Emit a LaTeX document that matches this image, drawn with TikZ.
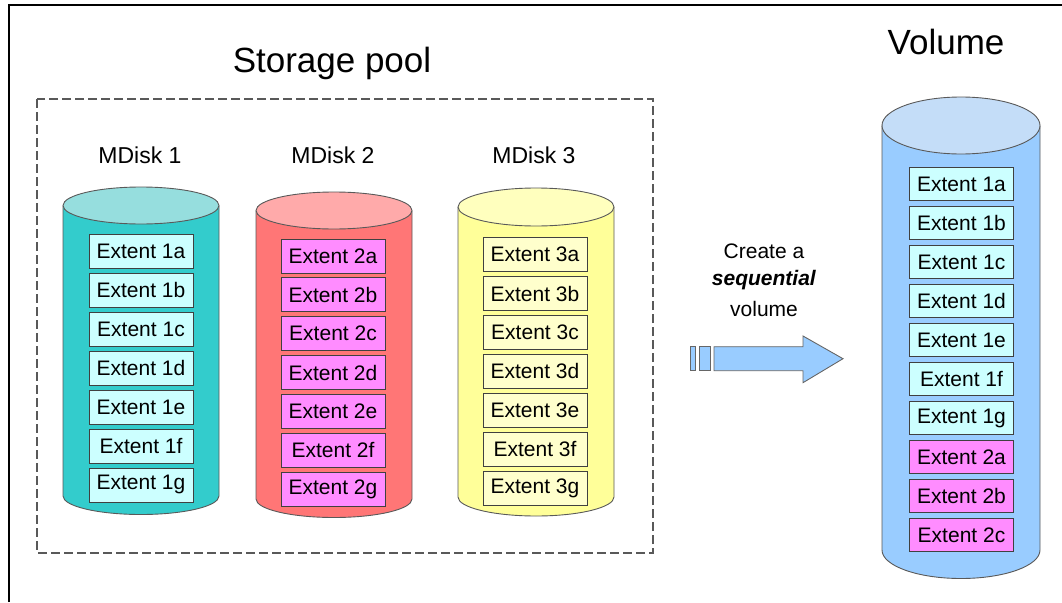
\documentclass[tikz,border=0pt]{standalone}
\usepackage{fontspec}
\setmainfont{Liberation Sans}
\definecolor{tealside}{RGB}{51,204,204}
\definecolor{tealtop}{RGB}{150,222,222}
\definecolor{redside}{RGB}{255,118,118}
\definecolor{redtop}{RGB}{255,170,170}
\definecolor{yelside}{RGB}{255,255,153}
\definecolor{yeltop}{RGB}{255,255,190}
\definecolor{blueside}{RGB}{153,204,255}
\definecolor{bluetop}{RGB}{196,221,248}
\definecolor{cyanbox}{RGB}{204,255,255}
\definecolor{magbox}{RGB}{255,140,255}
\definecolor{yelbox}{RGB}{255,255,204}
\definecolor{arrowfill}{RGB}{153,204,255}
\newcommand\drawcyl[7]{%
  \fill[#6] (#1-#4,#2) -- (#1-#4,#3) arc[start angle=180,end angle=0,x radius=#4,y radius=#5] -- (#1+#4,#2) -- cycle;
  \draw[cylline] (#1-#4,#2) -- (#1-#4,#3) arc[start angle=180,end angle=0,x radius=#4,y radius=#5] -- (#1+#4,#2);
  \draw[cylline,fill=#7] (#1,#2) ellipse[x radius=#4,y radius=#5];}
\begin{document}
\begin{tikzpicture}[x=1pt,y=-1pt,
  cylline/.style={draw=black!65,line width=0.9pt},
  ext/.style={draw=black!75,line width=0.8pt,minimum width=104pt,minimum height=34pt,inner sep=0pt,font=\fontsize{21}{23}\selectfont},
  title/.style={font=\fontsize{35}{38}\selectfont},
  disklbl/.style={font=\fontsize{23}{25}\selectfont},
  note/.style={font=\fontsize{21}{23}\selectfont}]
\useasboundingbox (0,0) rectangle (1062,602);
% frame
\draw[line width=1.5pt] (9,602) -- (9,5) -- (1062,5);
% titles
\node[title] (pooltitle) at (332,63) {Storage pool};
\node[title] (voltitle) at (946,42) {Volume};
% dashed pool box
\draw[draw=black!65,line width=1.2pt,dash pattern=on 9pt off 4pt] (37,99) rectangle (653,553);
% disk labels
\node[disklbl] (m1) at (140,155) {MDisk 1};
\node[disklbl] (m2) at (333,155) {MDisk 2};
\node[disklbl] (m3) at (534,155) {MDisk 3};
% cylinders
\drawcyl{141}{205.5}{496}{78}{18.5}{tealside}{tealtop}
\drawcyl{334}{210.5}{499}{78}{18.5}{redside}{redtop}
\drawcyl{536}{207}{497}{78}{19}{yelside}{yeltop}
\drawcyl{961}{125.5}{550}{79}{28.5}{blueside}{bluetop}
% extents
\foreach \l [count=\i from 0] in {a,b,c,d,e,f,g}{
  \node[ext,fill=cyanbox] (e1\l) at (141,251.5+38.9*\i) {Extent 1\l};
  \node[ext,fill=magbox] (e2\l) at (333,256+38.83*\i) {Extent 2\l};
  \node[ext,fill=yelbox] (e3\l) at (535,254.7+38.9*\i) {Extent 3\l};
}
\foreach \l [count=\i from 0] in {1a,1b,1c,1d,1e,1f,1g}{
  \node[ext,fill=cyanbox,minimum height=33pt] (v\l) at (961.5,184+39*\i) {Extent \l};
}
\foreach \l [count=\i from 7] in {2a,2b,2c}{
  \node[ext,fill=magbox,minimum height=33pt] (v\l) at (961.5,184+39*\i) {Extent \l};
}
% arrow text
\node[note] (t1) at (764,251) {Create a};
\node[note] (t2) at (764,280) {\textbf{\textit{sequential}}};
\node[note] (t3) at (764,309) {volume};
% block arrow
\draw[draw=black!60,line width=0.9pt,fill=arrowfill] (690.7,346.7) rectangle (695.7,370.7);
\draw[draw=black!60,line width=0.9pt,fill=arrowfill] (699,346.7) rectangle (710,370.7);
\draw[draw=black!60,line width=0.9pt,fill=arrowfill] (714,346.7) -- (803,346.7) -- (803,336) -- (843,358.7) -- (803,382.7) -- (803,370.7) -- (714,370.7) -- cycle;
\end{tikzpicture}
\end{document}
